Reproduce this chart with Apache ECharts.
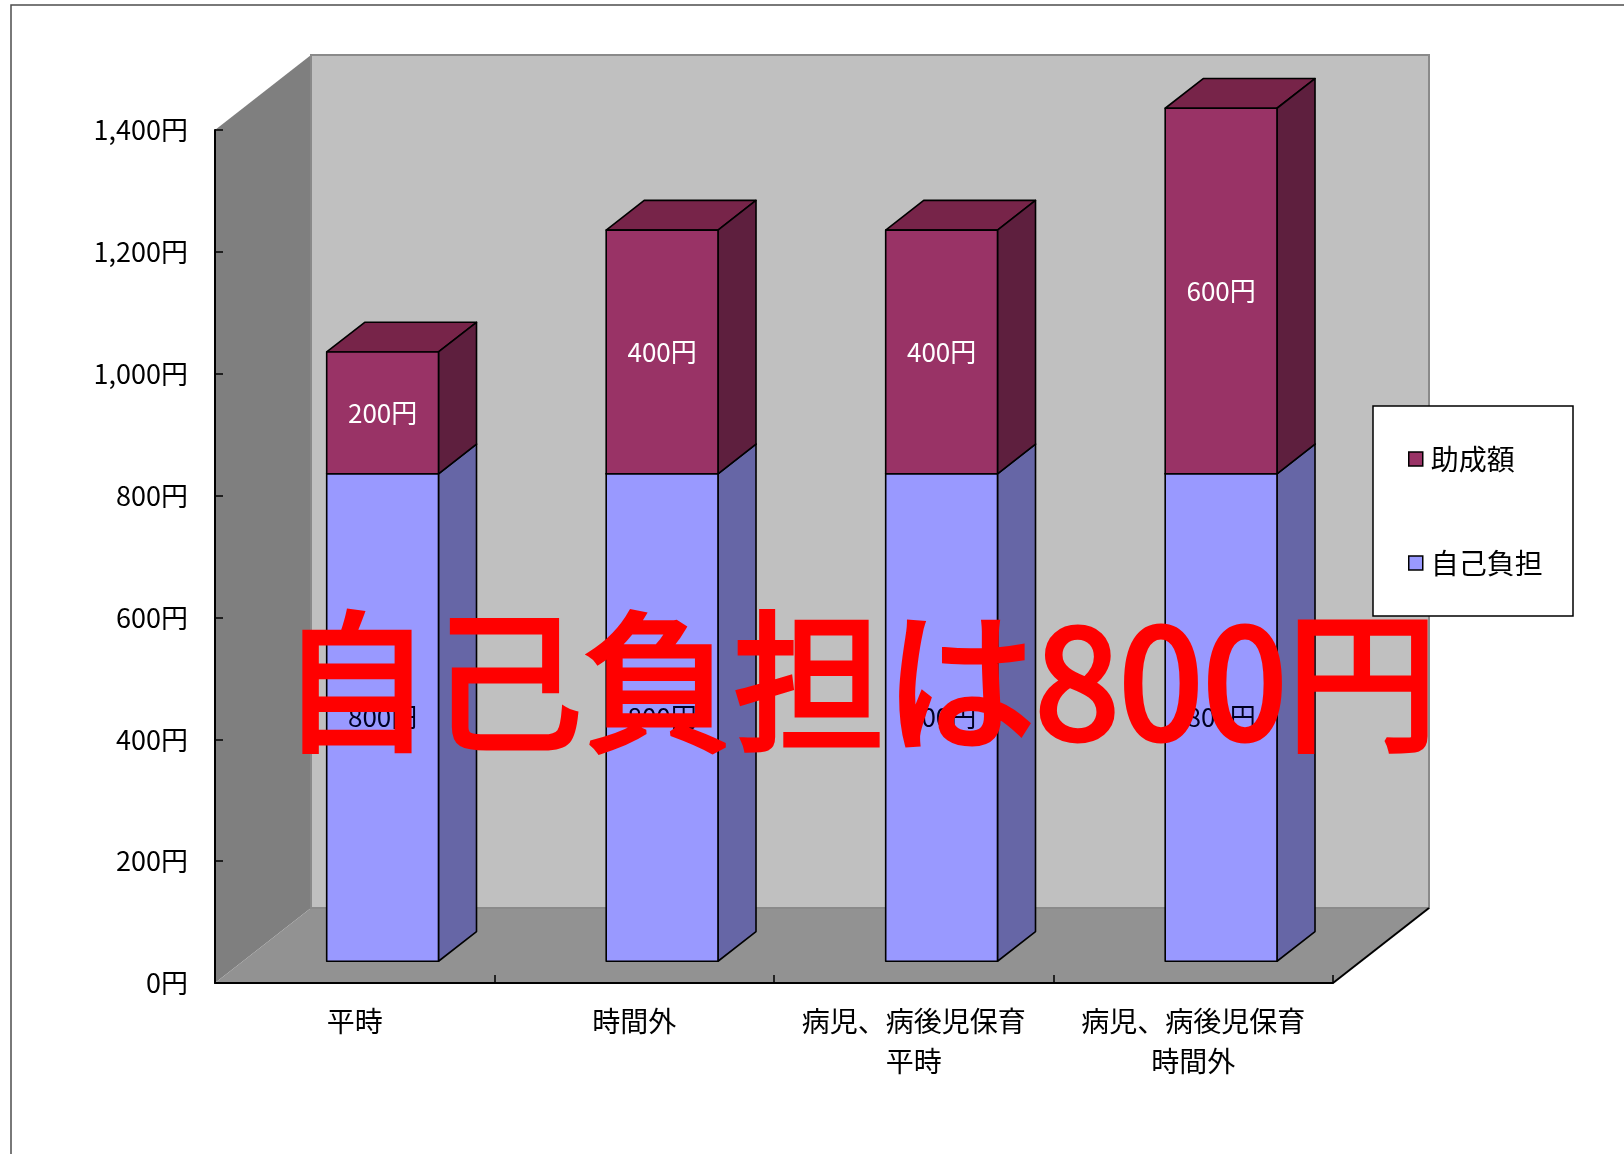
<!DOCTYPE html>
<html>
<head>
<meta charset="utf-8">
<style>
  html, body { margin: 0; padding: 0; background: #ffffff; }
  #chart { width: 1624px; height: 1154px; }
</style>
<script src="https://cdn.jsdelivr.net/npm/echarts@6/dist/echarts.min.js"></script>
</head>
<body>
<div id="chart"></div>
<script>
// ---- data ----
const categories = ['平時', '時間外', '病児、病後児保育\n平時', '病児、病後児保育\n時間外'];
const selfPay = [800, 800, 800, 800];      // 自己負担
const subsidy = [200, 400, 400, 600];      // 助成額
const seriesNames = ['自己負担', '助成額'];
const legendOrder = ['助成額', '自己負担'];
const yMin = 0, yMax = 1400, yStep = 200;
const overlayText = '自己負担は800円';

// ---- style ----
const FONT = '"Noto Sans CJK JP", "Noto Sans", sans-serif';
const DEPTH = [96, -75];     // full depth vector of the 3D box
const BAR_FRONT = 0.29;      // bar front face position along depth
const BAR_DEPTH = 0.396;     // bar thickness along depth
const BAR_WIDTH = 0.4;       // fraction of category band
const faceColors = {
  '自己負担': { front: '#9999ff', side: '#6666a6', top: '#7a7acc', label: '#000022' },
  '助成額':   { front: '#993366', side: '#5e1f3e', top: '#772449', label: '#ffffff' }
};

const selfData = categories.map((c, i) => [i, 0, selfPay[i]]);
const subData = categories.map((c, i) => [i, selfPay[i], subsidy[i]]);

function barRenderer(name) {
  const col = faceColors[name];
  return function (params, api) {
    const cat = api.value(0), base = api.value(1), val = api.value(2);
    const p0 = api.coord([cat, base]);
    const p1 = api.coord([cat, base + val]);
    const band = api.size([1, 0])[0];
    const w = band * BAR_WIDTH;
    const fdx = DEPTH[0] * BAR_FRONT, fdy = DEPTH[1] * BAR_FRONT;
    const dx = DEPTH[0] * BAR_DEPTH, dy = DEPTH[1] * BAR_DEPTH;
    const x0 = p0[0] - w / 2 + fdx, x1 = x0 + w;
    const yb = p0[1] + fdy, yt = p1[1] + fdy;
    const stroke = { stroke: '#000000', lineWidth: 1.6, lineJoin: 'round' };
    return {
      type: 'group',
      children: [
        { type: 'polygon', shape: { points: [[x0, yt], [x1, yt], [x1 + dx, yt + dy], [x0 + dx, yt + dy]] },
          style: Object.assign({ fill: col.top }, stroke) },
        { type: 'polygon', shape: { points: [[x1, yb], [x1 + dx, yb + dy], [x1 + dx, yt + dy], [x1, yt]] },
          style: Object.assign({ fill: col.side }, stroke) },
        { type: 'rect', shape: { x: x0, y: yt, width: w, height: yb - yt },
          style: Object.assign({ fill: api.visual('color') }, stroke) },
        { type: 'text', style: {
            text: val.toLocaleString('en-US') + '円',
            x: (x0 + x1) / 2, y: (yb + yt) / 2,
            align: 'center', verticalAlign: 'middle',
            fill: col.label, font: '26px ' + FONT } }
      ]
    };
  };
}

function wallRenderer(params, api) {
  const cs = params.coordSys;
  const x = cs.x, y = cs.y, w = cs.width, h = cs.height;
  const dx = DEPTH[0], dy = DEPTH[1];
  return {
    type: 'group',
    children: [
      { type: 'polygon', shape: { points: [[x, y + h], [x, y], [x + dx, y + dy], [x + dx, y + h + dy]] },
        style: { fill: '#7f7f7f', stroke: null } },
      { type: 'polygon', shape: { points: [[x, y + h], [x + dx, y + h + dy], [x + w + dx, y + h + dy], [x + w, y + h]] },
        style: { fill: '#929292', stroke: null } },
      { type: 'rect', shape: { x: x + dx, y: y + dy, width: w, height: h },
        style: { fill: '#c0c0c0', stroke: '#8a8a8a', lineWidth: 2 } },
      { type: 'line', shape: { x1: x + w, y1: y + h, x2: x + w + dx, y2: y + h + dy },
        style: { stroke: '#000000', lineWidth: 2 } }
    ]
  };
}

const chart = echarts.init(document.getElementById('chart'), null, { renderer: 'canvas' });
chart.setOption({
  backgroundColor: '#ffffff',
  animation: false,
  grid: { left: 215, top: 130, width: 1118, height: 853, containLabel: false },
  xAxis: {
    type: 'category',
    data: categories,
    z: 5,
    axisLine: { show: true, lineStyle: { color: '#000000', width: 2 } },
    axisTick: { show: true, inside: true, length: 8, lineStyle: { color: '#000000', width: 1.5 } },
    axisLabel: { color: '#000000', fontSize: 28, fontFamily: FONT, lineHeight: 40, margin: 18, interval: 0 },
    splitLine: { show: false }
  },
  yAxis: {
    type: 'value',
    min: yMin, max: yMax, interval: yStep,
    z: 5,
    axisLine: { show: true, lineStyle: { color: '#000000', width: 2 } },
    axisTick: { show: true, inside: true, length: 8, lineStyle: { color: '#000000', width: 1.5 } },
    axisLabel: { color: '#000000', fontSize: 27, fontFamily: FONT, margin: 27,
      formatter: v => v.toLocaleString('en-US') + '円' },
    splitLine: { show: false }
  },
  legend: {
    data: legendOrder,
    orient: 'vertical',
    left: 1403, top: 440,
    z: 60,
    itemWidth: 14, itemHeight: 14, itemGap: 76,
    icon: 'rect',
    itemStyle: { borderColor: '#000000', borderWidth: 1.5 },
    textStyle: { color: '#000000', fontSize: 28, fontFamily: FONT, lineHeight: 28, padding: [0, 0, 0, 3] },
    selectedMode: false
  },
  graphic: [
    { type: 'rect', z: 0, silent: true, shape: { x: 11, y: 5, width: 1700, height: 1300 },
      style: { fill: null, stroke: '#4d4d4d', lineWidth: 1.5 } },
    { type: 'rect', z: 50, silent: true, shape: { x: 1373, y: 406, width: 200, height: 210 },
      style: { fill: '#ffffff', stroke: '#000000', lineWidth: 1.5 } },
    { type: 'text', z: 100, silent: true, x: 859, y: 682,
      style: { text: overlayText, fill: '#ff0000', font: 'normal 151px ' + FONT,
        stroke: '#ff0000', lineWidth: 5, lineJoin: 'round',
        align: 'center', verticalAlign: 'middle' } }
  ],
  series: [
    { type: 'custom', name: 'walls', z: 1, silent: true, renderItem: wallRenderer,
      data: [[0, 0]], encode: { x: 0, y: 1 } },
    { type: 'custom', name: seriesNames[0], z: 2, renderItem: barRenderer(seriesNames[0]),
      itemStyle: { color: faceColors[seriesNames[0]].front },
      data: selfData, encode: { x: 0, y: [1, 2] } },
    { type: 'custom', name: seriesNames[1], z: 2, renderItem: barRenderer(seriesNames[1]),
      itemStyle: { color: faceColors[seriesNames[1]].front },
      data: subData, encode: { x: 0, y: [1, 2] } }
  ]
});
</script>
</body>
</html>
